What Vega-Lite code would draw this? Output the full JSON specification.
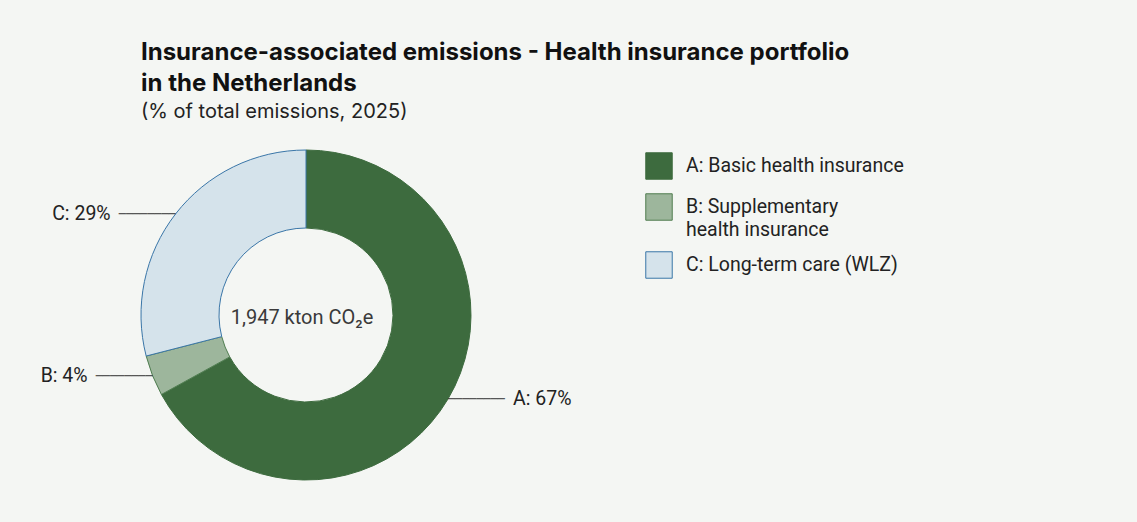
{
  "$schema": "https://vega.github.io/schema/vega-lite/v6.json",
  "width": 330,
  "height": 330,
  "autosize": {"type": "none"},
  "padding": {"left": 141, "top": 150, "right": 666, "bottom": 42},
  "background": "#f4f6f3",
  "title": {
    "text": ["Insurance-associated emissions - Health insurance portfolio", "in the Netherlands"],
    "subtitle": "(% of total emissions, 2025)",
    "anchor": "start",
    "frame": "group",
    "offset": 26,
    "font": "Inter",
    "fontSize": 24,
    "fontWeight": "bold",
    "color": "#111111",
    "lineHeight": 31,
    "subtitleFont": "Inter",
    "subtitleFontSize": 20,
    "subtitleColor": "#222222",
    "subtitlePadding": 6
  },
  "datasets": {
    "shares": [
      {"category": "A: Basic health insurance", "key": "A", "value": 67, "label": "A: 67%"},
      {"category": "B: Supplementary health insurance", "key": "B", "value": 4, "label": "B: 4%"},
      {"category": "C: Long-term care (WLZ)", "key": "C", "value": 29, "label": "C: 29%"}
    ],
    "total": [{"total": "1,947 kton CO₂e"}]
  },
  "data": {"name": "shares"},
  "layer": [
    {
      "mark": {"type": "arc", "outerRadius": 165, "innerRadius": 87, "strokeWidth": 1},
      "encoding": {
        "theta": {"field": "value", "type": "quantitative", "stack": true},
        "color": {
          "field": "category", "type": "nominal", "title": null,
          "scale": {
            "domain": ["A: Basic health insurance", "B: Supplementary health insurance", "C: Long-term care (WLZ)"],
            "range": ["#3d6b3e", "#9db69c", "#d5e3eb"]
          },
          "legend": {
            "labelExpr": "datum.label === 'B: Supplementary health insurance' ? ['B: Supplementary', 'health insurance'] : datum.label",
            "encode": {"labels": {"update": {"dy": {"value": 6}, "lineHeight": {"value": 23}}}}
          }
        },
        "stroke": {
          "field": "category", "type": "nominal", "title": null,
          "scale": {
            "domain": ["A: Basic health insurance", "B: Supplementary health insurance", "C: Long-term care (WLZ)"],
            "range": ["#3d6b3e", "#4f7d50", "#3a76a8"]
          },
          "legend": {
            "labelExpr": "datum.label === 'B: Supplementary health insurance' ? ['B: Supplementary', 'health insurance'] : datum.label",
            "encode": {"labels": {"update": {"dy": {"value": 6}, "lineHeight": {"value": 23}}}}
          }
        }
      }
    },
    {
      "mark": {"type": "text", "radius": 165, "align": "left", "baseline": "middle", "font": "DejaVu Sans Mono", "fontSize": 11.8, "color": "#333333"},
      "encoding": {
        "theta": {"field": "value", "type": "quantitative", "stack": true},
        "detail": {"field": "category", "type": "nominal"},
        "text": {"condition": {"test": "datum.key === 'A'", "value": "────────"}, "value": ""}
      }
    },
    {
      "mark": {"type": "text", "radius": 165, "align": "right", "baseline": "middle", "font": "DejaVu Sans Mono", "fontSize": 11.8, "color": "#333333"},
      "encoding": {
        "theta": {"field": "value", "type": "quantitative", "stack": true},
        "detail": {"field": "category", "type": "nominal"},
        "text": {"condition": {"test": "datum.key !== 'A'", "value": "────────"}, "value": ""}
      }
    },
    {
      "mark": {"type": "text", "radius": 165, "align": "left", "baseline": "middle", "dx": 65, "font": "Roboto", "fontSize": 19.5, "color": "#222222"},
      "encoding": {
        "theta": {"field": "value", "type": "quantitative", "stack": true},
        "detail": {"field": "category", "type": "nominal"},
        "text": {"condition": {"test": "datum.key === 'A'", "field": "label"}, "value": ""}
      }
    },
    {
      "mark": {"type": "text", "radius": 165, "align": "right", "baseline": "middle", "dx": -65, "font": "Roboto", "fontSize": 19.5, "color": "#222222"},
      "encoding": {
        "theta": {"field": "value", "type": "quantitative", "stack": true},
        "detail": {"field": "category", "type": "nominal"},
        "text": {"condition": {"test": "datum.key !== 'A'", "field": "label"}, "value": ""}
      }
    },
    {
      "data": {"name": "total"},
      "mark": {"type": "text", "align": "center", "baseline": "middle", "dx": -4, "dy": 3, "font": "Roboto", "fontSize": 20, "color": "#3a3a3a"},
      "encoding": {
        "text": {"field": "total", "type": "nominal"}
      }
    }
  ],
  "config": {
    "view": {"stroke": null},
    "legend": {
      "orient": "none",
      "legendX": 504,
      "legendY": 2,
      "padding": 0,
      "symbolType": "square",
      "symbolSize": 700,
      "symbolStrokeWidth": 1,
      "labelFont": "Roboto",
      "labelFontSize": 19.5,
      "labelColor": "#222222",
      "labelOffset": 13,
      "labelLimit": 400,
      "labelBaseline": "alphabetic",
      "rowPadding": 9
    }
  }
}
